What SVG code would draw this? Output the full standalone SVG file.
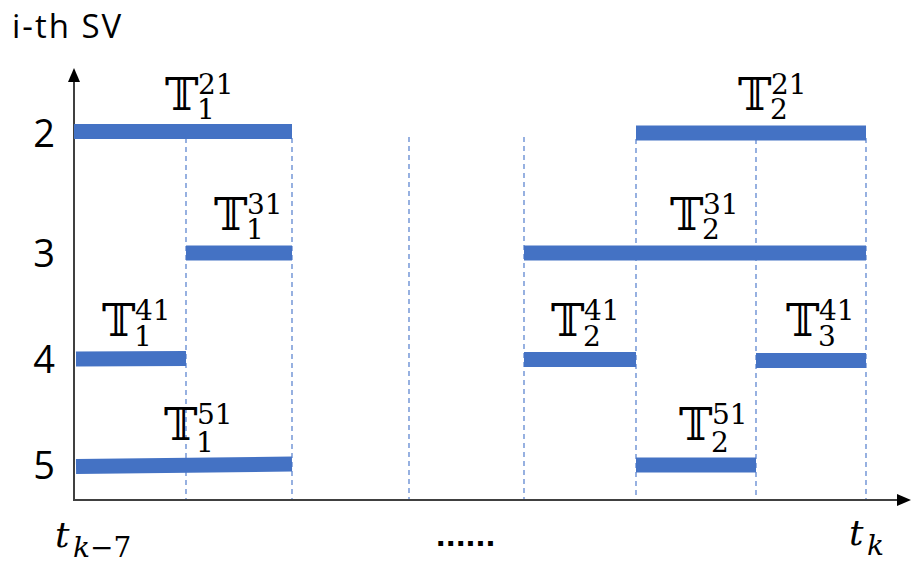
<svg xmlns="http://www.w3.org/2000/svg" width="912" height="565" viewBox="0 0 912 565">
<style>
.bar{stroke:#4472C4;stroke-width:15;fill:none}
.dash{stroke:#6B90D4;stroke-width:1.4;stroke-dasharray:5 4;fill:none}
.axis{stroke:#404040;stroke-width:2;fill:none}
.T{font-family:"DejaVu Serif","DejaVu Sans",serif;font-size:45px;fill:#000}
.sc{font-family:"DejaVu Serif",serif;font-size:28px}
.row{font-family:"Open Sans","Liberation Sans",Arial,sans-serif;font-size:38px;fill:#000;text-anchor:middle}
.lab{font-family:"Open Sans","Liberation Sans",sans-serif;font-size:33px;letter-spacing:2px;fill:#000}
.ti{font-family:"DejaVu Serif",serif;font-style:italic;fill:#000}
</style>
<rect width="912" height="565" fill="#fff"/>
<g id="connectors">
<g id="dashes">
<line class="dash" x1="186" y1="138" x2="186" y2="500"/>
<line class="dash" x1="292" y1="138" x2="292" y2="500"/>
<line class="dash" x1="409" y1="137" x2="409" y2="500"/>
<line class="dash" x1="524" y1="137" x2="524" y2="500"/>
<line class="dash" x1="636" y1="139" x2="636" y2="500"/>
<line class="dash" x1="756" y1="139" x2="756" y2="500"/>
<line class="dash" x1="866" y1="138" x2="866" y2="500"/>
</g>
<g id="axes">
<line class="axis" x1="74" y1="501" x2="74" y2="80"/>
<polygon points="74,68 68,82 80,82" fill="#000"/>
<line class="axis" x1="73" y1="500" x2="899" y2="500"/>
<polygon points="911,500 897,494 897,506" fill="#000"/>
</g>
</g>
<g id="bars">
<line class="bar" x1="74" y1="131.5" x2="292" y2="131.5"/>
<line class="bar" x1="636" y1="133" x2="866" y2="133"/>
<line class="bar" x1="186" y1="253" x2="292" y2="253"/>
<line class="bar" x1="524" y1="253" x2="866" y2="253"/>
<line class="bar" x1="76" y1="359" x2="186" y2="358.5"/>
<line class="bar" x1="524" y1="359.5" x2="636" y2="359.5"/>
<line class="bar" x1="756" y1="360.5" x2="866" y2="360.5"/>
<line class="bar" x1="76" y1="466.5" x2="292" y2="464"/>
<line class="bar" x1="636" y1="465" x2="756" y2="465"/>
</g>
<g id="rows">
<text class="row" x="44" y="147">2</text>
<text class="row" x="44" y="267">3</text>
<text class="row" x="44" y="373">4</text>
<text class="row" x="44" y="479">5</text>
</g>
<text class="lab" x="12" y="38">i-th SV</text>
<g id="label-T1-21"><text class="T" x="165" y="110">𝕋<tspan class="sc" x="198" y="94">21</tspan><tspan class="sc" x="197" y="119">1</tspan></text></g>
<g id="label-T2-21"><text class="T" x="738" y="110">𝕋<tspan class="sc" x="771" y="94">21</tspan><tspan class="sc" x="770" y="119">2</tspan></text></g>
<g id="label-T1-31"><text class="T" x="214" y="230">𝕋<tspan class="sc" x="247" y="214">31</tspan><tspan class="sc" x="246" y="239">1</tspan></text></g>
<g id="label-T2-31"><text class="T" x="670" y="230">𝕋<tspan class="sc" x="703" y="214">31</tspan><tspan class="sc" x="702" y="239">2</tspan></text></g>
<g id="label-T1-41"><text class="T" x="102" y="336">𝕋<tspan class="sc" x="135" y="320">41</tspan><tspan class="sc" x="134" y="346">1</tspan></text></g>
<g id="label-T2-41"><text class="T" x="551" y="336">𝕋<tspan class="sc" x="584" y="320">41</tspan><tspan class="sc" x="583" y="346">2</tspan></text></g>
<g id="label-T3-41"><text class="T" x="786" y="336">𝕋<tspan class="sc" x="819" y="320">41</tspan><tspan class="sc" x="818" y="346">3</tspan></text></g>
<g id="label-T1-51"><text class="T" x="164" y="440">𝕋<tspan class="sc" x="197" y="424">51</tspan><tspan class="sc" x="196" y="452">1</tspan></text></g>
<g id="label-T2-51"><text class="T" x="679" y="440">𝕋<tspan class="sc" x="712" y="424">51</tspan><tspan class="sc" x="711" y="452">2</tspan></text></g>
<g id="time-labels">
<text class="ti" x="55" y="547" font-size="36">t<tspan x="73" y="557" font-size="28">k</tspan><tspan font-style="normal" font-size="28" y="557">−7</tspan></text>
<text class="ti" x="849" y="545" font-size="36">t<tspan x="867" y="555" font-size="28">k</tspan></text>
<text x="436" y="546" font-family="Liberation Sans,sans-serif" font-size="34" font-weight="bold" letter-spacing="0.5">......</text>
</g>
</svg>
